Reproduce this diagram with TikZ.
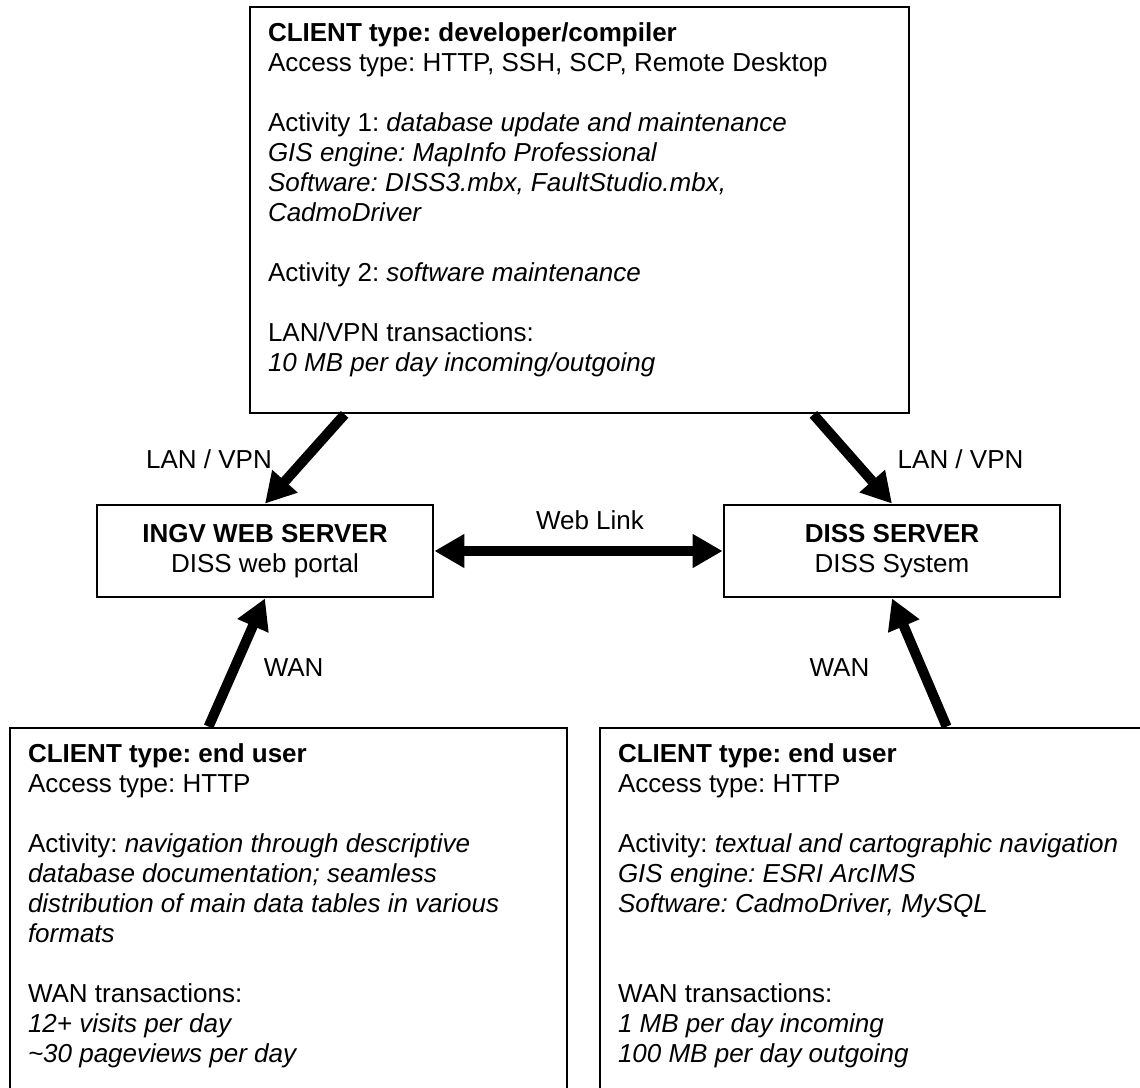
\documentclass[tikz,border=0pt]{standalone}
\usepackage{fontspec}
\setmainfont{Liberation Sans}
\usetikzlibrary{arrows.meta, positioning}
\frenchspacing

\begin{document}
\begin{tikzpicture}[
        x=0.5pt, y=-0.5pt,
        font=\fontsize{13pt}{15pt}\selectfont,
        client_box/.style = {rectangle, draw=black, line width=1.4pt, fill=white, inner sep=0pt},
        server_box/.style = {rectangle, draw=black, line width=1.4pt, fill=white, minimum width=168pt, minimum height=46pt, align=center, inner sep=0pt},
        box_text/.style = {anchor=north west, align=left, inner sep=0pt, xshift=9.5pt, yshift=-8.5pt},
        link/.style = {draw, line width=5pt, -{Triangle[length=15pt, width=16pt]}},
        web_link/.style = {draw, line width=5pt, {Triangle[length=15pt, width=16pt]}-{Triangle[length=15pt, width=16pt]}},
        link_label/.style = {inner sep=0pt}
    ]
    \useasboundingbox (0,0) rectangle (1140,1087);
    \clip (0,0) rectangle (1140,1087);

    % Developer client (top)
    \node [client_box, minimum width=329.5pt, minimum height=203pt] (dev) at (579.5,210) {};
    \node [box_text] at (dev.north west) {\textbf{CLIENT type: developer/compiler}\\
        Access type: HTTP, SSH, SCP, Remote Desktop\\[15pt]
        Activity 1: \textit{database update and maintenance}\\
        \textit{GIS engine: MapInfo Professional}\\
        \textit{Software: DISS3.mbx, FaultStudio.mbx,}\\
        \textit{CadmoDriver}\\[15pt]
        Activity 2: \textit{software maintenance}\\[15pt]
        LAN/VPN transactions:\\
        \textit{10 MB per day incoming/outgoing}};

    % Servers
    \node [server_box] (ingv) at (265,551) {\textbf{INGV WEB SERVER}\\DISS web portal};
    \node [server_box] (diss) at (892,551) {\textbf{DISS SERVER}\\DISS System};

    % End user clients (bottom)
    \node [client_box, minimum width=278.5pt, minimum height=186pt] (user_l) at (288.5,914) {};
    \node [box_text] at (user_l.north west) {\textbf{CLIENT type: end user}\\
        Access type: HTTP\\[15pt]
        Activity: \textit{navigation through descriptive}\\
        \textit{database documentation; seamless}\\
        \textit{distribution of main data tables in various}\\
        \textit{formats}\\[15pt]
        WAN transactions:\\
        \textit{12+ visits per day}\\
        \textit{\textasciitilde30 pageviews per day}};

    \node [client_box, minimum width=278.5pt, minimum height=186pt] (user_r) at (878.5,914) {};
    \node [box_text] at (user_r.north west) {\textbf{CLIENT type: end user}\\
        Access type: HTTP\\[15pt]
        Activity: \textit{textual and cartographic navigation}\\
        \textit{GIS engine: ESRI ArcIMS}\\
        \textit{Software: CadmoDriver, MySQL}\\[30pt]
        WAN transactions:\\
        \textit{1 MB per day incoming}\\
        \textit{100 MB per day outgoing}};

    % Connections
    \draw [link] ([xshift=48pt]dev.south west) -- (ingv.north) node[link_label, midway, left=14pt] {LAN / VPN};
    \draw [link] ([xshift=-48.5pt]dev.south east) -- (diss.north) node[link_label, midway, right=20pt] {LAN / VPN};
    \draw [web_link] (ingv.east) -- (diss.west) node[link_label, midway, above=8pt, xshift=5.75pt] {Web Link};
    \draw [link] ([xshift=100pt]user_l.north west) -- (ingv.south) node[link_label, midway, right=11pt, yshift=-2.75pt] {WAN};
    \draw [link] ([xshift=174pt]user_r.north west) -- (diss.south) node[link_label, midway, left=22.5pt, yshift=-2.75pt] {WAN};

\end{tikzpicture}
\end{document}
